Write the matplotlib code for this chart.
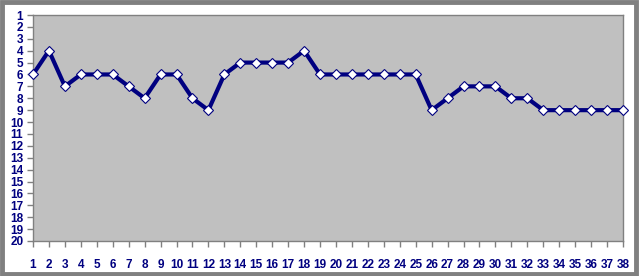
import matplotlib.pyplot as plt
from matplotlib.patches import Rectangle

# positions 1..38 and their rank values (axis is inverted)
games = list(range(1, 39))
ranks = [6, 4, 7, 6, 6, 6, 7, 8, 6, 6, 8, 9, 6, 5, 5, 5, 5, 4, 6, 6,
         6, 6, 6, 6, 6, 9, 8, 7, 7, 7, 8, 8, 9, 9, 9, 9, 9, 9]
y_ticks = list(range(1, 21))

navy = '#000080'
frame_gray = '#808080'

fig = plt.figure(figsize=(6.4, 2.76), dpi=100)
fig.patch.set_facecolor('white')
ax = fig.add_axes([33/640, 1 - 241/276, (623 - 33)/640, (241 - 15)/276])
ax.set_facecolor('#C0C0C0')

ax.plot(games, ranks, color=navy, lw=3, marker='D', ms=5.5,
        mfc='white', mec=navy, mew=0.8, solid_joinstyle='miter', clip_on=False, zorder=3)

ax.set_xlim(1, 38)
ax.set_ylim(20, 1)
ax.set_xticks(games)
ax.set_yticks(y_ticks)

for s in ax.spines.values():
    s.set_color(frame_gray)
    s.set_linewidth(1)

ax.tick_params(axis='both', colors=frame_gray, length=4, width=1,
               labelcolor=navy, labelsize=8.5)
ax.tick_params(axis='x', pad=9)
ax.tick_params(axis='y', pad=3)
for lbl in ax.get_xticklabels() + ax.get_yticklabels():
    lbl.set_fontfamily('Liberation Sans')
    lbl.set_fontweight('bold')

# outer chart frame
fig.add_artist(Rectangle((0.0025, 0.006), 0.992, 0.988, transform=fig.transFigure,
                         fill=False, edgecolor=frame_gray, lw=3.5))

fig.savefig('out.png', dpi=100)
